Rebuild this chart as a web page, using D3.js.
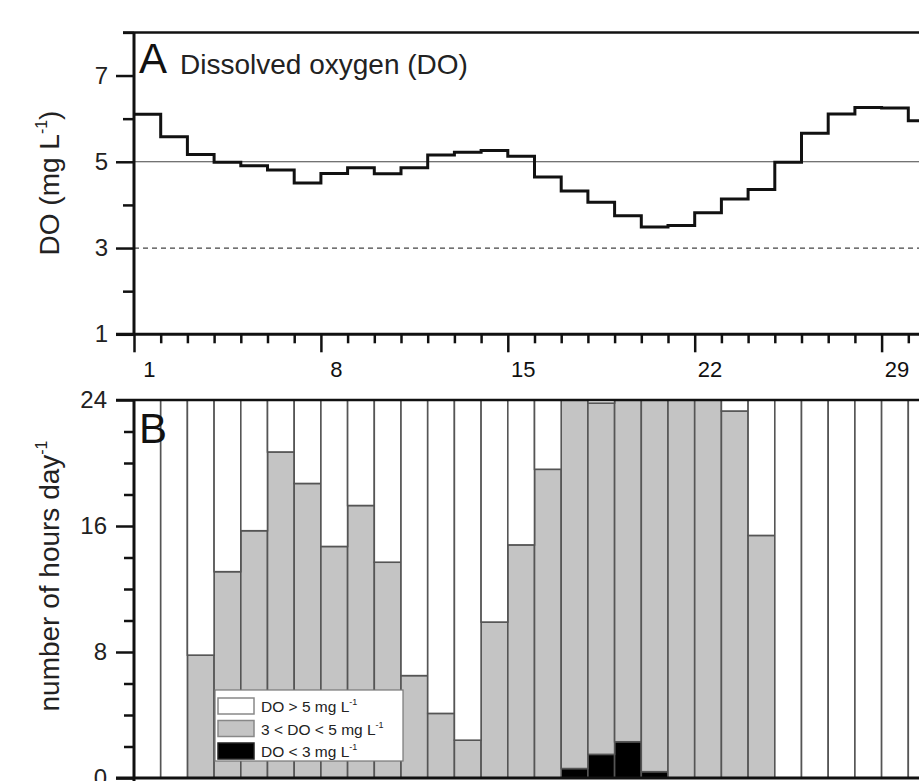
<!DOCTYPE html>
<html>
<head>
<meta charset="utf-8">
<script src="https://cdn.jsdelivr.net/npm/d3@7"></script>
<style>
body { margin: 0; background: #fff; }
svg { display: block; font-family: "Liberation Sans", Arial, sans-serif; }
</style>
</head>
<body>
<div id="chart"></div>
<script>
// day of month
const days = [1, 2, 3, 4, 5, 6, 7, 8, 9, 10, 11, 12, 13, 14, 15, 16, 17, 18, 19, 20, 21, 22, 23, 24, 25, 26, 27, 28, 29, 30];
// daily mean dissolved oxygen (mg L-1)
const doDaily = [6.10, 5.58, 5.17, 4.99, 4.91, 4.81, 4.51, 4.73, 4.86, 4.72, 4.86, 5.16, 5.22, 5.26, 5.13,
    4.65, 4.32, 4.06, 3.75, 3.49, 3.52, 3.82, 4.14, 4.36, 4.99, 5.66, 6.11, 6.26, 6.25, 5.95];
// hours per day in each DO class
const hoursBelow3 = [0, 0, 0, 0, 0, 0, 0, 0, 0, 0, 0, 0, 0, 0, 0, 0, 0.6, 1.5, 2.3, 0.4, 0, 0, 0, 0, 0, 0, 0, 0, 0, 0];
const hours3to5 = [0, 0, 7.8, 13.1, 15.7, 20.7, 18.7, 14.7, 17.3, 13.7, 6.5, 4.1, 2.4, 9.9, 14.8,
    19.6, 23.4, 22.3, 21.7, 23.6, 24, 24, 23.3, 15.4, 0, 0, 0, 0, 0, 0];
const hoursAbove5 = [24, 24, 16.2, 10.9, 8.3, 3.3, 5.3, 9.3, 6.7, 10.3, 17.5, 19.9, 21.6, 14.1, 9.2,
    4.4, 0, 0.2, 0, 0, 0, 0, 0.7, 8.6, 24, 24, 24, 24, 24, 24];
// tick labels
const doTicks = [1, 3, 5, 7];
const doMinorTicks = [2, 4, 6, 8];
const hourTicks = [0, 8, 16, 24];
const hourMinorTicks = [2, 4, 6, 10, 12, 14, 18, 20, 22];
const dayLabels = [1, 8, 15, 22, 29];
const legendLabels = [
    { key: "above5", pre: "DO > 5 mg L" },
    { key: "mid", pre: "3 < DO < 5 mg L" },
    { key: "below3", pre: "DO < 3 mg L" }
];

const W = 919, H = 781;
const left = 134, dayW = 26.7;
const ink = "#111";
const fills = { below3: "#000", mid: "#c4c4c4", above5: "#fff" };

const svg = d3.select("#chart").append("svg")
    .attr("width", W)
    .attr("height", H);

let x = d3.scaleLinear()
    .domain([1, 32])
    .range([left, left + 31 * dayW]);
let yA = d3.scaleLinear()
    .domain([1, 8])
    .range([334.3, 32.4]);
let yB = d3.scaleLinear()
    .domain([0, 24])
    .range([778, 400]);

// ---------- panel A ----------
const gA = svg.append("g");
gA.append("line")
    .attr("x1", left).attr("x2", W)
    .attr("y1", yA(5)).attr("y2", yA(5))
    .attr("stroke", "#444").attr("stroke-width", 1.1);
gA.append("line")
    .attr("x1", left).attr("x2", W)
    .attr("y1", yA(3)).attr("y2", yA(3))
    .attr("stroke", "#444").attr("stroke-width", 1.2)
    .attr("stroke-dasharray", "5,4");

let steps = days.map((d, i) => [d, doDaily[i]]);
steps.push([days[days.length - 1] + 1, doDaily[doDaily.length - 1]]);
gA.append("path")
    .datum(steps)
    .attr("fill", "none")
    .attr("stroke", ink)
    .attr("stroke-width", 3)
    .attr("d", d3.line()
        .x(d => x(d[0]))
        .y(d => yA(d[1]))
        .curve(d3.curveStepAfter));

// y axis A
gA.append("g")
    .attr("transform", `translate(${left},0)`)
    .call(d3.axisLeft(yA).tickValues(doMinorTicks).tickSize(11).tickFormat(""));
gA.append("g")
    .attr("transform", `translate(${left},0)`)
    .call(d3.axisLeft(yA).tickValues(doTicks).tickSize(18).tickPadding(8).tickFormat(d3.format("d")));
// x axis A: a tick at every day boundary
const boundaries = days.concat([31]);
gA.append("g")
    .attr("transform", `translate(0,${yA(1)})`)
    .call(d3.axisBottom(x).tickValues(boundaries.filter(d => !dayLabels.includes(d))).tickSize(9).tickFormat(""));
gA.append("g")
    .attr("transform", `translate(0,${yA(1)})`)
    .call(d3.axisBottom(x).tickValues(dayLabels).tickSize(18).tickFormat(""));
gA.selectAll(".day-label")
    .data(dayLabels)
    .enter()
    .append("text")
    .attr("class", "day-label")
    .attr("x", d => x(d + 0.5) + 2)
    .attr("y", 377)
    .attr("text-anchor", "middle")
    .attr("font-size", 22)
    .attr("fill", ink)
    .text(d => d);

gA.append("line").attr("x1", left).attr("x2", left).attr("y1", yA(8)).attr("y2", yA(1))
    .attr("stroke", ink).attr("stroke-width", 3);
gA.append("line").attr("x1", left - 18).attr("x2", W).attr("y1", yA(1)).attr("y2", yA(1))
    .attr("stroke", ink).attr("stroke-width", 3);
gA.append("line").attr("x1", left - 11).attr("x2", W).attr("y1", yA(8)).attr("y2", yA(8))
    .attr("stroke", ink).attr("stroke-width", 2.5);

gA.append("text")
    .attr("x", 139).attr("y", 73)
    .attr("font-size", 42).attr("fill", ink)
    .text("A");
gA.append("text")
    .attr("x", 180).attr("y", 74)
    .attr("font-size", 28).attr("fill", "#222")
    .text("Dissolved oxygen (DO)");

let titleA = gA.append("text")
    .attr("transform", "translate(59,183) rotate(-90)")
    .attr("text-anchor", "middle")
    .attr("font-size", 28)
    .attr("fill", "#222");
titleA.append("tspan").text("DO (mg L");
titleA.append("tspan").attr("font-size", 16).attr("dy", -12).text("-1");
titleA.append("tspan").attr("dy", 12).text(")");

// ---------- panel B ----------
const gB = svg.append("g");
const table = days.map((d, i) => ({
    day: d,
    below3: hoursBelow3[i],
    mid: hours3to5[i],
    above5: hoursAbove5[i]
}));
const series = d3.stack().keys(["below3", "mid", "above5"])(table);

gB.selectAll(".layer")
    .data(series)
    .enter()
    .append("g")
    .attr("class", "layer")
    .attr("fill", d => fills[d.key])
    .selectAll("rect")
    .data(d => d.filter(p => p[1] - p[0] > 0))
    .enter()
    .append("rect")
    .attr("x", d => x(d.data.day))
    .attr("width", d => x(d.data.day + 1) - x(d.data.day))
    .attr("y", d => yB(d[1]))
    .attr("height", d => yB(d[0]) - yB(d[1]))
    .attr("stroke", "#555")
    .attr("stroke-width", 1.6);

gB.append("g")
    .attr("transform", `translate(${left},0)`)
    .call(d3.axisLeft(yB).tickValues(hourMinorTicks).tickSize(10).tickFormat(""));
gB.append("g")
    .attr("transform", `translate(${left},0)`)
    .call(d3.axisLeft(yB).tickValues(hourTicks).tickSize(18).tickPadding(9).tickFormat(d3.format("d")));

gB.append("line").attr("x1", left).attr("x2", left).attr("y1", yB(24)).attr("y2", H)
    .attr("stroke", ink).attr("stroke-width", 3);
gB.append("line").attr("x1", left - 18).attr("x2", W).attr("y1", yB(24)).attr("y2", yB(24))
    .attr("stroke", ink).attr("stroke-width", 2.5);
gB.append("line").attr("x1", left - 18).attr("x2", W).attr("y1", yB(0)).attr("y2", yB(0))
    .attr("stroke", ink).attr("stroke-width", 3);

gB.append("text")
    .attr("x", 139).attr("y", 443)
    .attr("font-size", 42).attr("fill", ink)
    .text("B");

let titleB = gB.append("text")
    .attr("transform", "translate(59,576) rotate(-90)")
    .attr("text-anchor", "middle")
    .attr("font-size", 28)
    .attr("fill", "#222");
titleB.append("tspan").text("number of hours day");
titleB.append("tspan").attr("font-size", 16).attr("dy", -12).text("-1");

// legend
const lg = gB.append("g").attr("transform", "translate(215,690)");
lg.append("rect")
    .attr("width", 188).attr("height", 71)
    .attr("fill", "#fff").attr("stroke", "#777").attr("stroke-width", 1.2);
let rows = lg.selectAll(".row")
    .data(legendLabels)
    .enter()
    .append("g")
    .attr("transform", (d, i) => `translate(3,${8 + i * 22.5})`);
rows.append("rect")
    .attr("width", 36).attr("height", 16)
    .attr("fill", d => fills[d.key])
    .attr("stroke", d => d.key === "below3" ? "#222" : "#888")
    .attr("stroke-width", 1.5);
let lt = rows.append("text")
    .attr("x", 43).attr("y", 14)
    .attr("font-size", 15.5)
    .attr("fill", "#222");
lt.append("tspan").text(d => d.pre);
lt.append("tspan").attr("font-size", 9).attr("dy", -7).text("-1");

// axis styling
svg.selectAll(".domain").remove();
svg.selectAll(".tick line").attr("stroke", ink).attr("stroke-width", 2.5);
svg.selectAll(".tick text")
    .attr("font-size", 24)
    .attr("fill", "#222")
    .attr("font-family", "Liberation Sans, Arial, sans-serif");
</script>
</body>
</html>
